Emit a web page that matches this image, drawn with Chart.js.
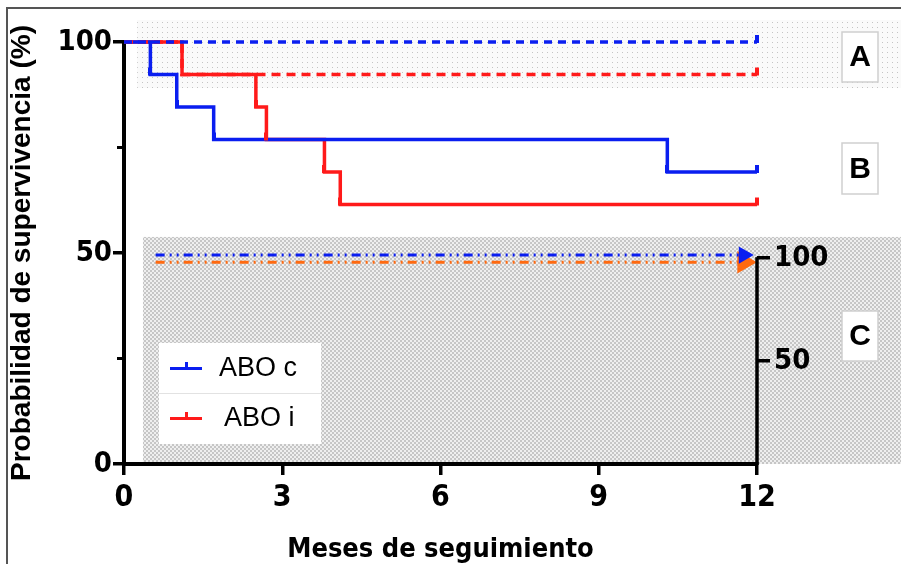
<!DOCTYPE html>
<html>
<head>
<meta charset="utf-8">
<script src="https://cdn.jsdelivr.net/npm/chart.js@4"></script>
<style>
  html, body { margin: 0; padding: 0; background: #fff; }
  #wrap { width: 901px; height: 564px; }
</style>
</head>
<body>
<div id="wrap"><canvas id="km" width="901" height="564"></canvas></div>
<script>
// ---- data ----
const xTicks = [0, 3, 6, 9, 12];
const yTicks = [0, 50, 100];
const y2Ticks = [50, 100];

// B: solid curves
const aboCTime = [0, 0.5, 1.0, 1.7, 10.3, 12];
const aboCSurv = [100, 92.3, 84.6, 76.9, 69.2, 69.2];
const aboITime = [0, 1.1, 2.5, 2.7, 3.8, 4.1, 12];
const aboISurv = [100, 92.3, 84.6, 76.9, 69.2, 61.5, 61.5];

// censor ticks
const aboCCensTime = [0.5, 1.0, 1.7, 10.3, 12];
const aboCCensSurv = [92.3, 84.6, 76.9, 69.2, 69.2];
const aboICensTime = [2.5, 2.7, 3.8, 4.1, 12];
const aboICensSurv = [84.6, 76.9, 69.2, 61.5, 61.5];

// A: dashed curves
const aboCTimeA = [0, 12];
const aboCSurvA = [100, 100];
const aboITimeA = [0, 1.1, 12];
const aboISurvA = [100, 92.3, 92.3];

// C: right-axis curves
const panelCTime = [0.6, 11.75];
const aboCSurvC = [101.5, 101.5];
const aboISurvC = [98, 98];

const BLUE = '#0a1ef0';
const RED = '#ff1a1a';
const ORANGE = '#ff6a10';
const NARROW = "'DejaVu Sans Condensed', 'Liberation Sans Narrow', Arial, sans-serif";
const SANS = "'Liberation Sans', Arial, sans-serif";

const pts = (xs, ys) => xs.map((x, i) => ({ x: x, y: ys[i] }));

// upward censor tick as an image
function censorMark(color) {
    const c = document.createElement('canvas');
    c.width = 4; c.height = 16;
    const g = c.getContext('2d');
    g.fillStyle = color;
    g.fillRect(0, 1, 4, 8);
    return c;
}

function makePattern(ctx, kind) {
    const c = document.createElement('canvas');
    const g = c.getContext('2d');
    if (kind === 'dots') {
        c.width = 5; c.height = 5;
        g.fillStyle = '#fafafa'; g.fillRect(0, 0, 5, 5);
        g.fillStyle = '#c4c4c4'; g.fillRect(2, 2, 1, 1);
    } else {
        c.width = 4; c.height = 4;
        g.fillStyle = '#efefef'; g.fillRect(0, 0, 4, 4);
        g.fillStyle = '#c6c6c6';
        g.fillRect(0, 0, 2, 2); g.fillRect(2, 2, 2, 2);
    }
    return ctx.createPattern(c, 'repeat');
}

const backdrop = {
    id: 'backdrop',
    beforeDraw(chart) {
        const { ctx, scales: { x, y } } = chart;
        ctx.save();
        ctx.fillStyle = '#fff';
        ctx.fillRect(0, 0, chart.width, chart.height);
        // frame
        ctx.strokeStyle = '#555';
        ctx.lineWidth = 2;
        ctx.beginPath();
        ctx.moveTo(6, 8); ctx.lineTo(chart.width, 8);
        ctx.moveTo(7, 8); ctx.lineTo(7, chart.height);
        ctx.stroke();
        // band A
        ctx.fillStyle = makePattern(ctx, 'dots');
        const ay0 = y.getPixelForValue(105.2), ay1 = y.getPixelForValue(89.1);
        ctx.fillRect(x.getPixelForValue(0.25), ay0, chart.width, ay1 - ay0);
        // band C
        ctx.fillStyle = makePattern(ctx, 'check');
        const cy0 = y.getPixelForValue(53.8), cy1 = y.getPixelForValue(0);
        ctx.fillRect(x.getPixelForValue(0.36), cy0, chart.width, cy1 - cy0);
        // letter boxes
        const boxes = [['A', 32, 82], ['B', 143, 194], ['C', 311, 361]];
        ctx.font = 'bold 30px ' + SANS;
        ctx.textAlign = 'center';
        ctx.textBaseline = 'middle';
        boxes.forEach(b => {
            ctx.fillStyle = '#fff';
            ctx.fillRect(842, b[1], 36, b[2] - b[1]);
            ctx.strokeStyle = '#cfcfcf';
            ctx.lineWidth = 1.5;
            ctx.strokeRect(842, b[1], 36, b[2] - b[1]);
            ctx.fillStyle = '#000';
            ctx.fillText(b[0], 860, (b[1] + b[2]) / 2 + 1);
        });
        ctx.restore();
    },
    afterDraw(chart) {
        const { ctx, scales: { y, y2 } } = chart;
        ctx.save();
        ctx.strokeStyle = '#000';
        // right axis line, 0..100 only
        ctx.lineWidth = 3.5;
        ctx.beginPath();
        ctx.moveTo(y2.left, y2.getPixelForValue(0) + 1);
        ctx.lineTo(y2.left, y2.getPixelForValue(100) - 1);
        ctx.stroke();
        // short minor ticks on the left axis
        ctx.lineWidth = 3;
        ctx.beginPath();
        [25, 75].forEach(v => {
            const py = y.getPixelForValue(v);
            ctx.moveTo(y.right - 7, py); ctx.lineTo(y.right, py);
        });
        ctx.stroke();
        // legend
        ctx.fillStyle = '#fff';
        ctx.fillRect(159, 343, 162, 101);
        ctx.strokeStyle = '#e2e2e2';
        ctx.lineWidth = 1;
        ctx.beginPath(); ctx.moveTo(159, 393.5); ctx.lineTo(321, 393.5); ctx.stroke();
        const rows = [['ABO c', BLUE, 368, 219], ['ABO i', RED, 418, 224]];
        ctx.font = '27px ' + SANS;
        ctx.textAlign = 'left';
        ctx.textBaseline = 'middle';
        rows.forEach(r => {
            ctx.fillStyle = r[1];
            ctx.fillRect(170, r[2] - 1, 32, 3);
            ctx.fillRect(185, r[2] - 6, 3, 6);
            ctx.fillStyle = '#000';
            ctx.fillText(r[0], r[3], r[2] + 1);
        });
        ctx.restore();
    }
};

const lastOnly = (r) => (c) => c.dataIndex === c.dataset.data.length - 1 ? r : 0;

new Chart(document.getElementById('km'), {
    type: 'line',
    data: {
        datasets: [
            { label: 'ABO c A', data: pts(aboCTimeA, aboCSurvA), borderColor: BLUE, borderWidth: 3.5,
              borderDash: [8, 6], stepped: true, pointRadius: 0, order: 1, clip: 8 },
            { label: 'ABO i A', data: pts(aboITimeA, aboISurvA), borderColor: RED, borderWidth: 3.5,
              borderDash: [9, 6], stepped: true, pointRadius: 0, order: 2, clip: 8 },
            { label: 'ABO c', data: pts(aboCTime, aboCSurv), borderColor: BLUE, borderWidth: 3.5,
              stepped: true, pointRadius: 0, order: 3, clip: 8 },
            { label: 'ABO i', data: pts(aboITime, aboISurv), borderColor: RED, borderWidth: 3.5,
              stepped: true, pointRadius: 0, order: 4, clip: 8 },
            { label: 'cens c', data: pts(aboCCensTime, aboCCensSurv), showLine: false,
              pointStyle: censorMark(BLUE), order: 0, clip: 12 },
            { label: 'cens i', data: pts(aboICensTime, aboICensSurv), showLine: false,
              pointStyle: censorMark(RED), order: 0, clip: 12 },
            { label: 'cens A', data: [{ x: 12, y: 100 }, { x: 12, y: 92.3 }], showLine: false,
              pointStyle: [censorMark(BLUE), censorMark(RED)], order: 0, clip: 12 },
            { label: 'ABO i C', data: pts(panelCTime, aboISurvC), yAxisID: 'y2', borderColor: ORANGE,
              backgroundColor: ORANGE, borderWidth: 3, borderDash: [9, 5, 2, 5, 2, 5],
              pointStyle: 'triangle', rotation: 90, pointRadius: lastOnly(10), order: 6 },
            { label: 'ABO c C', data: pts(panelCTime, aboCSurvC), yAxisID: 'y2', borderColor: BLUE,
              backgroundColor: BLUE, borderWidth: 3, borderDash: [9, 5, 2, 5, 2, 5],
              pointStyle: 'triangle', rotation: 90, pointRadius: lastOnly(7), order: 5 }
        ]
    },
    options: {
        responsive: false,
        animation: false,
        layout: { padding: { top: 42, left: 0, right: 0, bottom: 0 } },
        plugins: { legend: { display: false }, tooltip: { enabled: false } },
        scales: {
            x: {
                type: 'linear', min: 0, max: 12,
                afterFit: s => { s.height = 100; },
                afterBuildTicks: s => { s.ticks = xTicks.map(v => ({ value: v })); },
                grid: { display: true, drawOnChartArea: false, color: '#000', lineWidth: 3.5, tickLength: 11 },
                border: { display: true, color: '#000', width: 4 },
                ticks: { color: '#000', padding: 5, font: { family: NARROW, weight: 'bold', size: 30 } },
                title: { display: true, text: 'Meses de seguimiento', color: '#000', padding: { top: 18, bottom: -2 },
                         font: { family: NARROW, weight: 'bold', size: 27 } }
            },
            y: {
                min: 0, max: 100,
                afterFit: s => { s.width = 124; },
                afterBuildTicks: s => { s.ticks = yTicks.map(v => ({ value: v })); },
                grid: { display: true, drawOnChartArea: false, color: '#000', lineWidth: 3.5, tickLength: 11 },
                border: { display: true, color: '#000', width: 4 },
                ticks: { color: '#000', padding: 1, font: { family: NARROW, weight: 'bold', size: 29 } },
                title: { display: true, text: 'Probabilidad de supervivencia (%)', color: '#000',
                         padding: { top: 5, bottom: 0 }, font: { family: SANS, weight: 'bold', size: 28 } }
            },
            y2: {
                position: 'right', min: 0, max: 205,
                afterFit: s => { s.width = 144; },
                afterBuildTicks: s => { s.ticks = y2Ticks.map(v => ({ value: v })); },
                grid: { display: true, drawOnChartArea: false, color: '#000', lineWidth: 3.5, tickLength: 13 },
                border: { display: false },
                ticks: { color: '#000', padding: 4, font: { family: NARROW, weight: 'bold', size: 29 } }
            }
        }
    },
    plugins: [backdrop]
});
</script>
</body>
</html>
